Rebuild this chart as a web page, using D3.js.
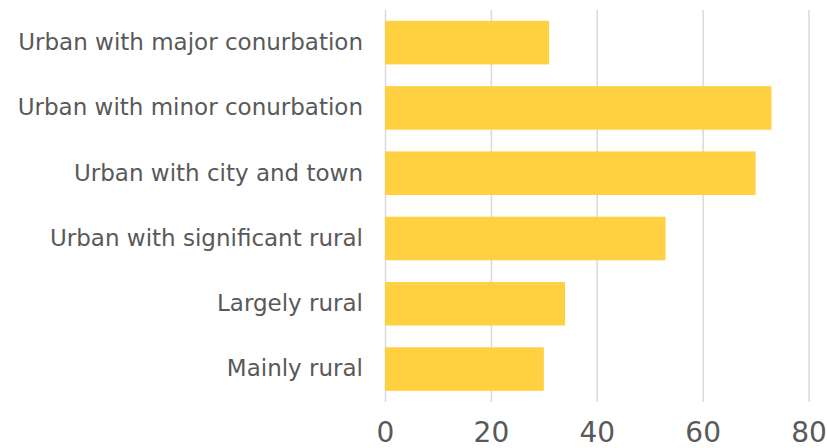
<!DOCTYPE html>
<html>
<head>
<meta charset="utf-8">
<script src="https://cdn.jsdelivr.net/npm/d3@7"></script>
<style>
  body { margin: 0; background: #fff; }
  text { font-family: "DejaVu Sans", sans-serif; fill: #595959; }
</style>
</head>
<body>
<svg id="chart" width="827" height="448"></svg>
<script>
// data
const categories = [
    "Urban with major conurbation",
    "Urban with minor conurbation",
    "Urban with city and town",
    "Urban with significant rural",
    "Largely rural",
    "Mainly rural"
]
const values = [31, 73, 70, 53, 34, 30]
const ticks = [0, 20, 40, 60, 80]

const barColor = "#ffd03f"
const gridColor = "#d9d9d9"

const margin = {top: 10, left: 385, right: 18.5, bottom: 46.3}
const width = 827, height = 448

const svg = d3.select("#chart")

const x = d3.scaleLinear()
    .domain([0, 80])
    .range([margin.left, width - margin.right])

const y = d3.scaleBand()
    .domain(categories)
    .range([margin.top, height - margin.bottom])
    .paddingInner(0.333)
    .paddingOuter(0.1667)

// gridlines + tick labels
const xAxis = svg.append("g")
    .attr("transform", `translate(0,${height - margin.bottom})`)
    .call(d3.axisBottom(x).tickValues(ticks).tickSize(-(height - margin.bottom - margin.top)).tickPadding(20))

xAxis.select(".domain").remove()
xAxis.selectAll(".tick line")
    .attr("stroke", gridColor)
    .attr("stroke-width", 1.5)
xAxis.selectAll(".tick text")
    .attr("font-size", 28)
    .attr("fill", "#595959")
    .style("font-family", "DejaVu Sans, sans-serif")

// bars
svg.append("g")
    .selectAll("rect")
    .data(values)
    .join("rect")
    .attr("x", x(0))
    .attr("y", (d, i) => y(categories[i]))
    .attr("width", d => x(d) - x(0))
    .attr("height", y.bandwidth())
    .attr("fill", barColor)

// category labels
const yAxis = svg.append("g")
    .attr("transform", `translate(${margin.left},0)`)
    .call(d3.axisLeft(y).tickSize(0).tickPadding(22))

yAxis.select(".domain").remove()
yAxis.selectAll(".tick text")
    .attr("font-size", 23)
    .attr("fill", "#595959")
    .style("font-family", "DejaVu Sans, sans-serif")
</script>
</body>
</html>
